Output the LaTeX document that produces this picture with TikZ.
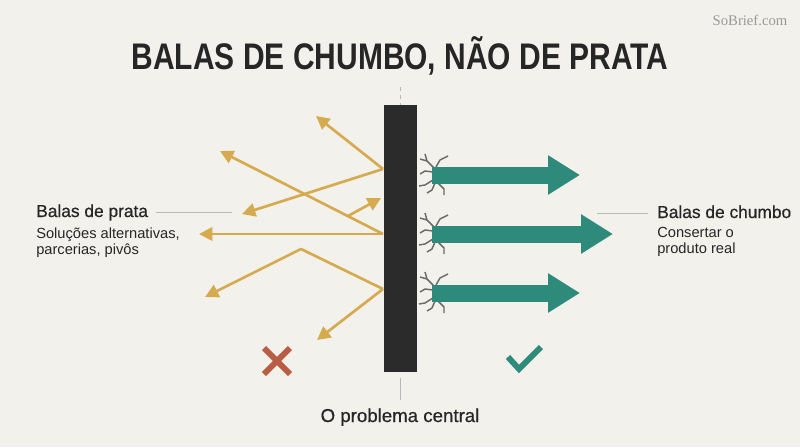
\documentclass[tikz,border=0pt]{standalone}
\usepackage{fontspec}
\setmainfont{Liberation Sans}
\newfontfamily\medfont[FakeBold=0.6]{Liberation Sans}
\newfontfamily\markfont{Liberation Serif}
\usetikzlibrary{arrows.meta, positioning}
\definecolor{paper}{HTML}{F2F1EC}
\definecolor{gold}{HTML}{D6AA4E}
\definecolor{leadteal}{HTML}{2E8A7B}
\definecolor{wallgray}{HTML}{2B2B2B}
\definecolor{crossred}{HTML}{B95E44}
\definecolor{ink}{HTML}{262626}
\tikzset{
  wall/.style={rectangle, fill=wallgray, minimum width=24.75pt, minimum height=200pt, inner sep=0pt},
  silver/.style={-{Triangle[length=10pt, width=10pt]}, line width=2pt, draw=gold, line join=round},
  lead/.style={-{Triangle[length=24pt, width=28pt]}, line width=12.75pt, draw=leadteal},
  crack/.style={draw=black!58, line width=1.1pt, line join=round},
  guide/.style={draw=black!28, line width=0.6pt},
  heading/.style={font=\medfont\fontsize{13}{15}\selectfont, text=ink, inner sep=0pt, anchor=base west},
  caption/.style={font=\fontsize{11}{12}\selectfont, text=ink, inner sep=0pt, align=left, anchor=north west},
  crackpic/.pic={
    \draw[crack] (0,-7) -- (-7,-14) -- (-9,-21) (-7,-14) -- (-14,-16);
    \draw[crack] (2,-8) -- (6,-15) -- (14,-19);
    \draw[crack] (-1,-3) -- (-9,-4) -- (-14,-1);
    \draw[crack] (-1,5) -- (-9,10) -- (-15,11);
    \draw[crack] (1,8) -- (-2,15) -- (-7,18);
    \draw[crack] (4,8) -- (10,14) -- (10,20);
  }
}

\begin{document}
\begin{tikzpicture}[x=0.75pt, y=-0.75pt]
  \useasboundingbox (0,0) rectangle (800,447);
  \fill[paper] (0,0) rectangle (800,447);

  % title and mark
  \node[anchor=base, inner sep=0pt, text=ink, font=\bfseries\fontsize{27.75}{30}\selectfont] (title) at (400,69) {\scalebox{0.81}[1]{BALAS DE CHUMBO, NÃO DE PRATA}};
  \node[font=\markfont\fontsize{11}{12}\selectfont, text=black!40] (mark) at (750,20) {SoBrief.com};

  % the wall
  \node[wall] (wall) at (400,238.5) {};
  \coordinate (top) at (400,87);
  \draw[guide, dashed] (top) -- (wall.north);
  \node[anchor=base, inner sep=0pt, text=ink, font=\medfont\fontsize{14}{16}\selectfont] (problem) at (400,422) {O problema central};
  \draw[guide] ([yshift=-4.5pt]wall.south) -- ([yshift=6pt]problem.north);

  % silver bullets bouncing off
  \coordinate (hitA) at (383,169);
  \coordinate (hitB) at (383,234);
  \coordinate (hitC) at (383,289);
  \coordinate (tipA1) at (316,116);
  \coordinate (tipA2) at (242,214);
  \coordinate (tipB1) at (220,151);
  \coordinate (tipB2) at (199,234);
  \coordinate (splitB) at (348,216);
  \coordinate (tipB3) at (381,198);
  \coordinate (kinkC) at (301,249);
  \coordinate (tipC1) at (205,297);
  \coordinate (tipC2) at (317,340);
  \draw[silver] (hitA) -- (tipA1);
  \draw[silver] (hitA) -- (tipA2);
  \draw[silver] (hitB) -- (tipB1);
  \draw[silver] (hitB) -- (tipB2);
  \draw[silver] (splitB) -- (tipB3);
  \draw[silver] (hitC) -- (kinkC) -- (tipC1);
  \draw[silver] (hitC) -- (tipC2);

  % lead bullets breaking through
  \foreach \y/\tip [count=\i] in {175/580, 234/613, 293/580} {
    \coordinate (in\i) at (432,\y);
    \coordinate (out\i) at (\tip,\y);
    \pic at (434,\y) {crackpic};
    \draw[lead] (in\i) -- (out\i);
  }

  % labels
  \node[heading] (prata) at (36,217) {Balas de prata};
  \node[caption] (prataText) at (36,228) {Soluções alternativas,\\parcerias, pivôs};
  \coordinate (prataEnd) at (232,212);
  \draw[guide] ([xshift=6pt]prata.east |- prataEnd) -- (prataEnd);

  \node[heading] (chumbo) at (657,218) {Balas de chumbo};
  \node[caption] (chumboText) at (657,227) {Consertar o\\produto real};
  \coordinate (chumboStart) at (597,213);
  \draw[guide] (chumboStart) -- ([xshift=-7pt]chumbo.west |- chumboStart);

  % verdicts
  \coordinate (cross) at (277,361);
  \draw[crossred, line width=4.4pt] ([shift={(-13,-13)}]cross) -- ([shift={(13,13)}]cross)
    ([shift={(-13,13)}]cross) -- ([shift={(13,-13)}]cross);
  \coordinate (tick) at (524,359);
  \draw[leadteal, line width=4.4pt] ([shift={(-16,-2)}]tick) -- ([shift={(-5,10)}]tick) -- ([shift={(17,-12)}]tick);
\end{tikzpicture}
\end{document}
